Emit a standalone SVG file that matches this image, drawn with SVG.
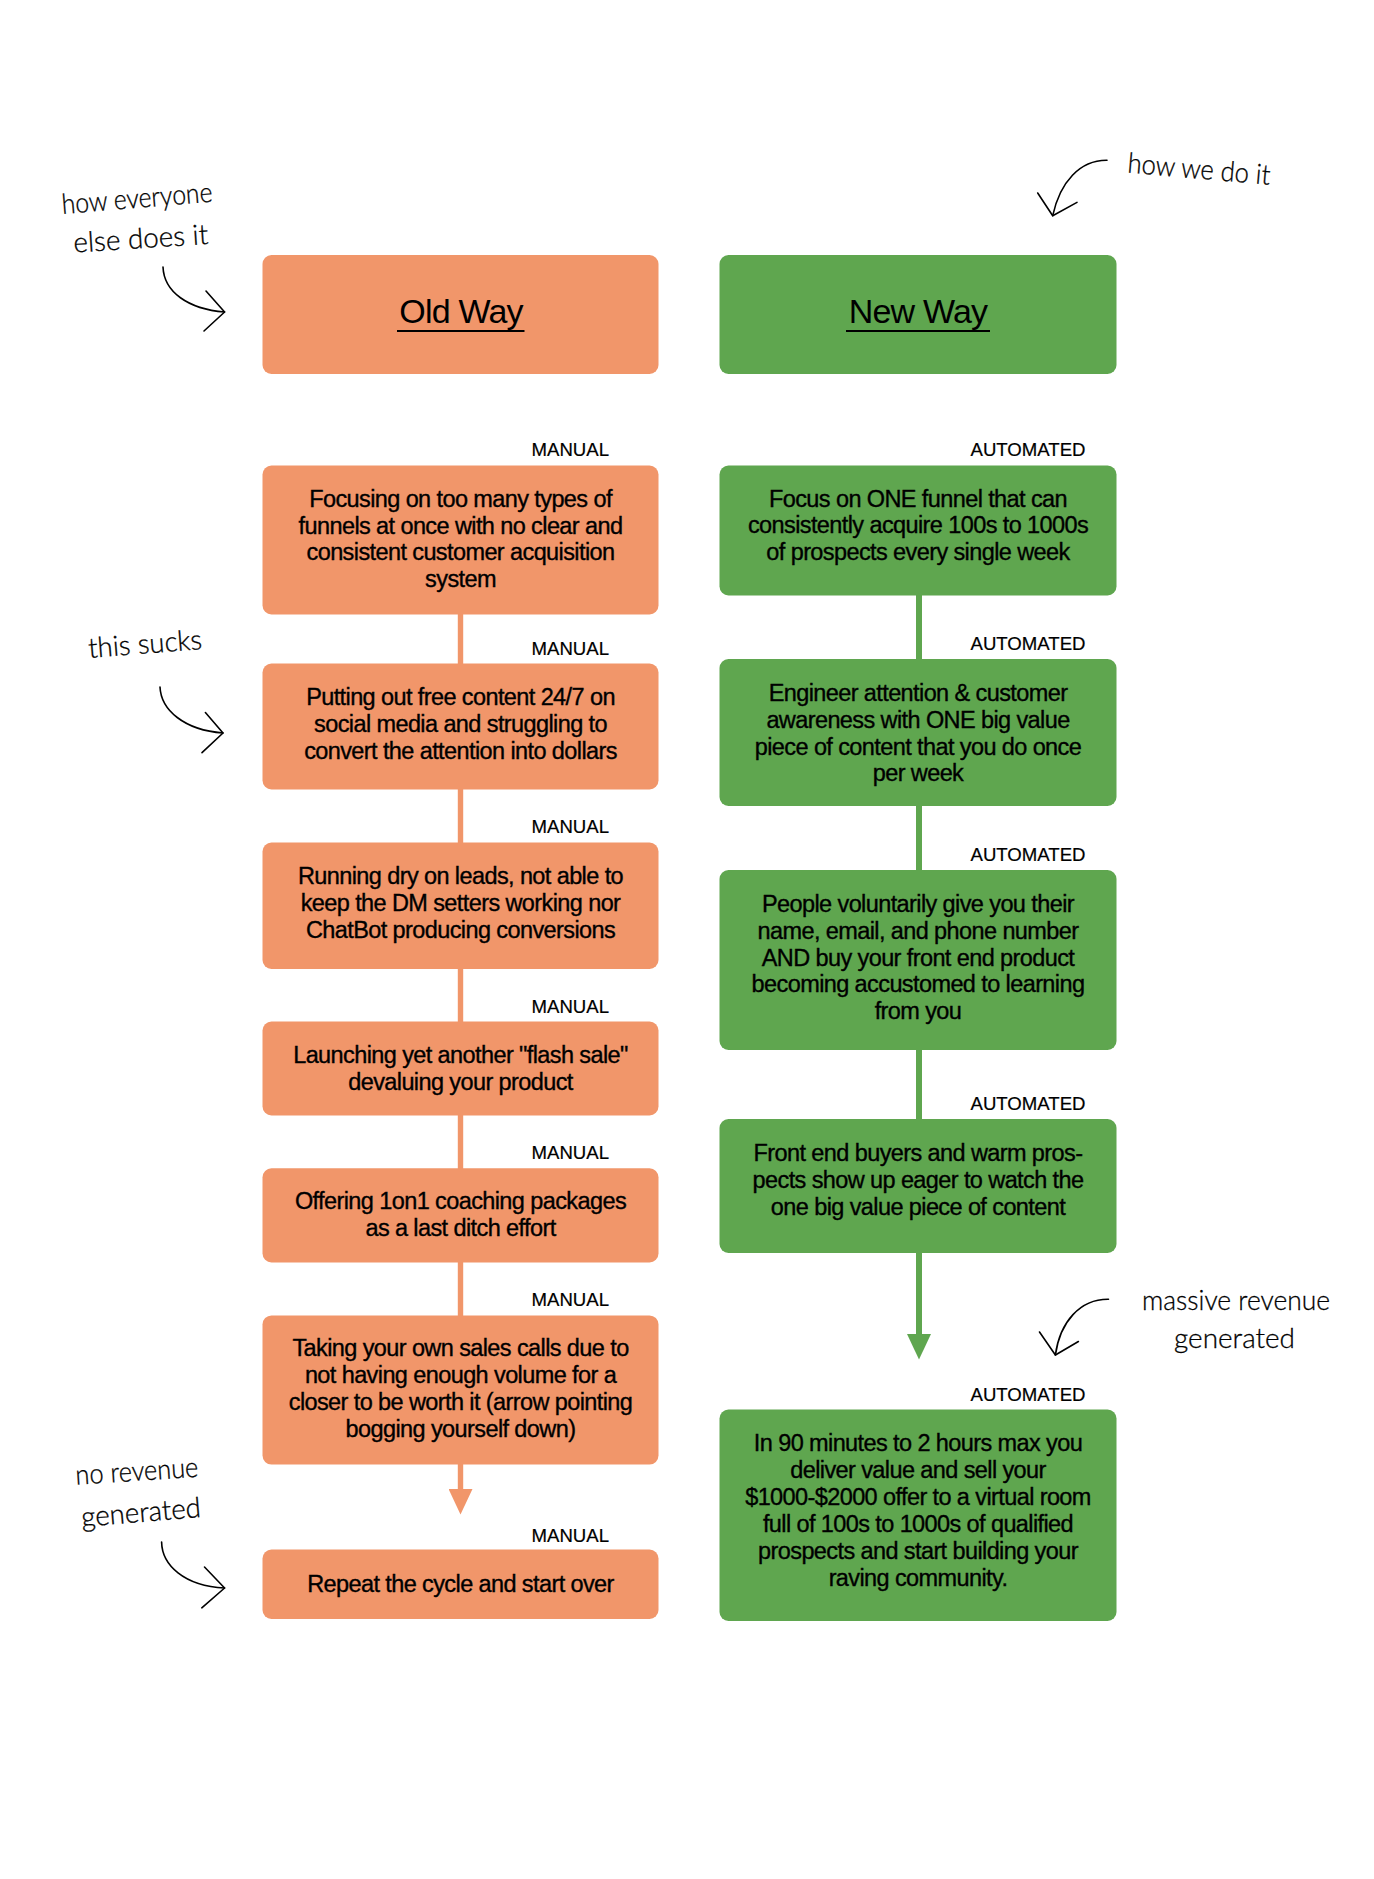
<svg xmlns="http://www.w3.org/2000/svg" width="1374" height="1879" viewBox="0 0 1374 1879">
<style>
.bg{fill:#ffffff}
.o{fill:#F1966A}
.g{fill:#5FA64F}
.t{font-family:"Liberation Sans",Arial,sans-serif;font-size:23.5px;letter-spacing:-0.6px;fill:#000;stroke:#000;stroke-width:0.35px;text-anchor:middle}
.h{font-family:"Liberation Sans",Arial,sans-serif;font-size:34px;letter-spacing:-0.8px;fill:#000;text-anchor:middle}
.lab{font-family:"Liberation Sans",Arial,sans-serif;font-size:18.6px;fill:#000;stroke:#000;stroke-width:0.2px;text-anchor:end}
.ul{stroke:#000;stroke-width:2}
.hw{font-family:Lato,"DejaVu Sans",sans-serif;font-weight:300;font-size:28px;fill:#000;stroke:#000;stroke-width:0.3px}
.sk{fill:none;stroke:#000;stroke-width:1.6;stroke-linecap:round;stroke-linejoin:round}
.co{stroke:#F1966A;stroke-width:5.4;fill:none}
.cg{stroke:#5FA64F;stroke-width:6;fill:none}
</style>
<defs>
<marker id="ahO" markerUnits="userSpaceOnUse" markerWidth="26" markerHeight="24" viewBox="0 0 26 24" refX="0" refY="12" orient="auto"><path d="M0,0 L25.5,12 L0,24 z" fill="#F1966A"/></marker>
<marker id="ahG" markerUnits="userSpaceOnUse" markerWidth="26" markerHeight="24" viewBox="0 0 26 24" refX="0" refY="12" orient="auto"><path d="M0,0 L25.5,12 L0,24 z" fill="#5FA64F"/></marker>
</defs>
<rect class="bg" x="0" y="0" width="1374" height="1879"/>

<g id="connectors">
<line class="co" x1="460.5" y1="614" x2="460.5" y2="664"/>
<line class="co" x1="460.5" y1="789" x2="460.5" y2="843"/>
<line class="co" x1="460.5" y1="968" x2="460.5" y2="1022"/>
<line class="co" x1="460.5" y1="1115" x2="460.5" y2="1169"/>
<line class="co" x1="460.5" y1="1262" x2="460.5" y2="1316"/>
<line class="co" x1="460.5" y1="1464" x2="460.5" y2="1489" marker-end="url(#ahO)"/>
<line class="cg" x1="919" y1="595" x2="919" y2="660"/>
<line class="cg" x1="919" y1="805" x2="919" y2="871"/>
<line class="cg" x1="919" y1="1049" x2="919" y2="1120"/>
<line class="cg" x1="919" y1="1252" x2="919" y2="1334" marker-end="url(#ahG)"/>
</g>

<g id="old-way">
<rect class="o" x="262.5" y="255" width="396" height="119" rx="9"/>
<text class="h" x="461" y="323">Old Way</text>
<line class="ul" x1="397" y1="331" x2="524.5" y2="331"/>
</g>
<g id="new-way">
<rect class="g" x="719.5" y="255" width="397" height="119" rx="9"/>
<text class="h" x="918" y="323">New Way</text>
<line class="ul" x1="846" y1="331" x2="990" y2="331"/>
</g>

<g id="old-1">
<text class="lab" x="609" y="456">MANUAL</text>
<rect class="o" x="262.5" y="465.5" width="396" height="149" rx="9"/>
<text class="t"><tspan x="460.5" y="507">Focusing on too many types of</tspan><tspan x="460.5" y="533.5">funnels at once with no clear and</tspan><tspan x="460.5" y="560">consistent customer acquisition</tspan><tspan x="460.5" y="586.5">system</tspan></text>
</g>
<g id="old-2">
<text class="lab" x="609" y="654.5">MANUAL</text>
<rect class="o" x="262.5" y="663.5" width="396" height="126" rx="9"/>
<text class="t"><tspan x="460.5" y="705">Putting out free content 24/7 on</tspan><tspan x="460.5" y="731.7">social media and struggling to</tspan><tspan x="460.5" y="758.5">convert the attention into dollars</tspan></text>
</g>
<g id="old-3">
<text class="lab" x="609" y="833">MANUAL</text>
<rect class="o" x="262.5" y="842.5" width="396" height="126.5" rx="9"/>
<text class="t"><tspan x="460.5" y="884">Running dry on leads, not able to</tspan><tspan x="460.5" y="911">keep the DM setters working nor</tspan><tspan x="460.5" y="938">ChatBot producing conversions</tspan></text>
</g>
<g id="old-4">
<text class="lab" x="609" y="1013">MANUAL</text>
<rect class="o" x="262.5" y="1021.5" width="396" height="94" rx="9"/>
<text class="t"><tspan x="460.5" y="1063">Launching yet another "flash sale"</tspan><tspan x="460.5" y="1089.7">devaluing your product</tspan></text>
</g>
<g id="old-5">
<text class="lab" x="609" y="1159">MANUAL</text>
<rect class="o" x="262.5" y="1168.3" width="396" height="94.2" rx="9"/>
<text class="t"><tspan x="460.5" y="1209.4">Offering 1on1 coaching packages</tspan><tspan x="460.5" y="1236">as a last ditch effort</tspan></text>
</g>
<g id="old-6">
<text class="lab" x="609" y="1306.2">MANUAL</text>
<rect class="o" x="262.5" y="1315.4" width="396" height="149.2" rx="9"/>
<text class="t"><tspan x="460.5" y="1356.3">Taking your own sales calls due to</tspan><tspan x="460.5" y="1383.4">not having enough volume for a</tspan><tspan x="460.5" y="1410.4">closer to be worth it (arrow pointing</tspan><tspan x="460.5" y="1437.3">bogging yourself down)</tspan></text>
</g>
<g id="old-7">
<text class="lab" x="609" y="1541.6">MANUAL</text>
<rect class="o" x="262.5" y="1549.5" width="396" height="69.5" rx="9"/>
<text class="t" x="460.5" y="1591.8">Repeat the cycle and start over</text>
</g>

<g id="new-1">
<text class="lab" x="1085.5" y="456">AUTOMATED</text>
<rect class="g" x="719.5" y="465.5" width="397" height="130" rx="9"/>
<text class="t"><tspan x="918" y="507">Focus on ONE funnel that can</tspan><tspan x="918" y="533.3">consistently acquire 100s to 1000s</tspan><tspan x="918" y="559.6">of prospects every single week</tspan></text>
</g>
<g id="new-2">
<text class="lab" x="1085.5" y="650">AUTOMATED</text>
<rect class="g" x="719.5" y="659" width="397" height="147" rx="9"/>
<text class="t"><tspan x="918" y="701">Engineer attention &amp; customer</tspan><tspan x="918" y="727.8">awareness with ONE big value</tspan><tspan x="918" y="754.6">piece of content that you do once</tspan><tspan x="918" y="781.4">per week</tspan></text>
</g>
<g id="new-3">
<text class="lab" x="1085.5" y="861">AUTOMATED</text>
<rect class="g" x="719.5" y="870" width="397" height="180" rx="9"/>
<text class="t"><tspan x="918" y="912">People voluntarily give you their</tspan><tspan x="918" y="938.8">name, email, and phone number</tspan><tspan x="918" y="965.6">AND buy your front end product</tspan><tspan x="918" y="992.4">becoming accustomed to learning</tspan><tspan x="918" y="1019.2">from you</tspan></text>
</g>
<g id="new-4">
<text class="lab" x="1085.5" y="1110.4">AUTOMATED</text>
<rect class="g" x="719.5" y="1119" width="397" height="134" rx="9"/>
<text class="t"><tspan x="918" y="1161">Front end buyers and warm pros-</tspan><tspan x="918" y="1188">pects show up eager to watch the</tspan><tspan x="918" y="1215.3">one big value piece of content</tspan></text>
</g>
<g id="new-5">
<text class="lab" x="1085.5" y="1401.2">AUTOMATED</text>
<rect class="g" x="719.5" y="1409.6" width="397" height="211.4" rx="9"/>
<text class="t"><tspan x="918" y="1450.6">In 90 minutes to 2 hours max you</tspan><tspan x="918" y="1477.7">deliver value and sell your</tspan><tspan x="918" y="1504.8">$1000-$2000 offer to a virtual room</tspan><tspan x="918" y="1531.8">full of 100s to 1000s of qualified</tspan><tspan x="918" y="1558.9">prospects and start building your</tspan><tspan x="918" y="1586">raving community.</tspan></text>
</g>

<g id="note-everyone">
<text class="hw" x="62.5" y="214" textLength="151" lengthAdjust="spacingAndGlyphs" transform="rotate(-4.7 62.5 214)">how everyone</text>
<text class="hw" x="74" y="252.6" textLength="135" lengthAdjust="spacingAndGlyphs" transform="rotate(-3.7 74 252.6)">else does it</text>
<path class="sk" d="M163,267 C164,292 188,309 224.6,312"/>
<polyline class="sk" points="206,291 224.6,312 204,331"/>
</g>
<g id="note-sucks">
<text class="hw" x="89" y="658" textLength="114" lengthAdjust="spacingAndGlyphs" transform="rotate(-4.5 89 658)">this sucks</text>
<path class="sk" d="M160,687 C161,710 184,730 223,733"/>
<polyline class="sk" points="205.4,712.5 223,733 202,752.7"/>
</g>
<g id="note-norevenue">
<text class="hw" x="76" y="1484.7" textLength="123" lengthAdjust="spacingAndGlyphs" transform="rotate(-3.7 76 1484.7)">no revenue</text>
<text class="hw" x="82" y="1527" textLength="120" lengthAdjust="spacingAndGlyphs" transform="rotate(-4.8 82 1527)">generated</text>
<path class="sk" d="M161.6,1542 C162,1565 184,1586 224.6,1588"/>
<polyline class="sk" points="204.5,1567 224.6,1588 201.8,1607.8"/>
</g>
<g id="note-howwe">
<text class="hw" x="1127" y="172.6" textLength="143" lengthAdjust="spacingAndGlyphs" transform="rotate(4.9 1127 172.6)">how we do it</text>
<path class="sk" d="M1107,160.3 C1080,160 1060,182 1052.7,215.7"/>
<polyline class="sk" points="1037.7,193 1052.7,215.7 1077,202.4"/>
</g>
<g id="note-massive">
<text class="hw" x="1142" y="1310" textLength="188" lengthAdjust="spacingAndGlyphs">massive revenue</text>
<text class="hw" x="1174" y="1348" textLength="121" lengthAdjust="spacingAndGlyphs">generated</text>
<path class="sk" d="M1108.5,1299.3 C1080,1299 1060,1322 1055.4,1355"/>
<polyline class="sk" points="1039.5,1332 1055.4,1355 1078.4,1341.5"/>
</g>
</svg>
